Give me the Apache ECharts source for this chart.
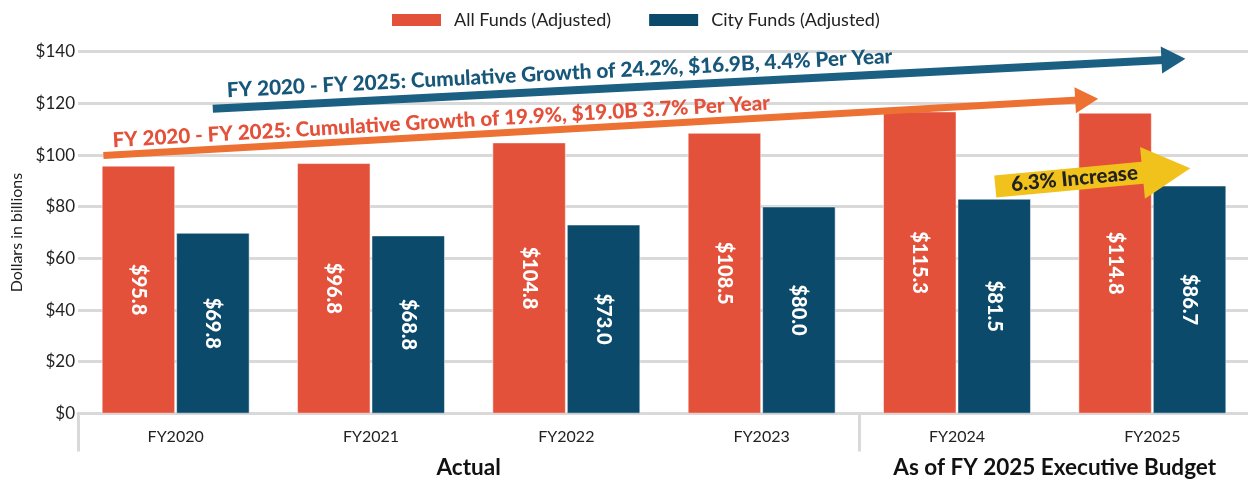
<!DOCTYPE html>
<html><head><meta charset="utf-8">
<script src="https://cdn.jsdelivr.net/npm/echarts@6/dist/echarts.min.js"></script>
<style>html,body{margin:0;padding:0;background:#fff}#chart{width:1248px;height:485px}</style>
</head><body><div id="chart"></div>
<script>
// ---- data ----
const categories = ['FY2020', 'FY2021', 'FY2022', 'FY2023', 'FY2024', 'FY2025'];
const allFunds = [95.8, 96.8, 104.8, 108.5, 116.8, 116.3];
const cityFunds = [69.8, 68.8, 73.0, 80.0, 83.0, 88.1];
const allFundsLabels = ['$95.8', '$96.8', '$104.8', '$108.5', '$115.3', '$114.8'];
const cityFundsLabels = ['$69.8', '$68.8', '$73.0', '$80.0', '$81.5', '$86.7'];
const seriesNames = ['All Funds (Adjusted)', 'City Funds (Adjusted)'];
const yTicks = [0, 20, 40, 60, 80, 100, 120, 140];
const groupNames = ['Actual', 'As of FY 2025 Executive Budget'];
const groupCenters = [2, 5];
const groupBounds = [0, 4];
// annotation arrows (x in category units 0..6, y in $B)
const cityTrendText = 'FY 2020 - FY 2025: Cumulative Growth of 24.2%, $16.9B, 4.4% Per Year';
const cityTrendFrom = [0.69, 117.9];
const cityTrendTo = [5.608, 137.0];
const allTrendText = 'FY 2020 - FY 2025: Cumulative Growth of 19.9%, $19.0B 3.7% Per Year';
const allTrendFrom = [0.13, 99.8];
const allTrendTo = [5.164, 121.5];
const increaseText = '6.3% Increase';
const increaseFrom = [4.696, 87.8];
const increaseTo = [5.572, 94.0];

// ---- style ----
const FONT = 'Lato, "Open Sans", sans-serif';
const ORANGE = '#E4513A';
const BLUE = '#0B4A6B';
const GRID = '#D9D9D9';

const chart = echarts.init(document.getElementById('chart'));
chart.setOption({
  animation: false,
  textStyle: { fontFamily: FONT },
  legend: {
    left: 390, top: 11, padding: 0,
    itemWidth: 51, itemHeight: 14, itemGap: 36,
    icon: 'rect',
    data: seriesNames,
    textStyle: { fontSize: 18, color: '#222', fontFamily: FONT, padding: [0, 0, 0, 7] }
  },
  grid: { left: 78, top: 51.7, width: 1172, bottom: 71.6, containLabel: false, outerBoundsMode: 'none' },
  xAxis: [
    {
      type: 'category', data: categories, position: 'bottom',
      axisLine: { show: true, lineStyle: { color: GRID, width: 3 } },
      axisTick: { show: false },
      axisLabel: { color: '#222', fontSize: 16, margin: 15, fontFamily: FONT }
    },
    {
      type: 'value', min: 0, max: 6, position: 'bottom',
      axisLine: { show: false },
      splitLine: { show: false },
      axisTick: { show: true, customValues: groupBounds, length: 38, inside: false,
        lineStyle: { color: GRID, width: 3 } },
      axisLabel: { show: true, customValues: groupCenters, margin: 43,
        fontSize: 22.5, fontWeight: 'bold', color: '#111', fontFamily: FONT,
        formatter: v => groupNames[groupCenters.indexOf(Math.round(v))] || '' }
    }
  ],
  yAxis: {
    type: 'value', min: yTicks[0], max: yTicks[yTicks.length - 1], interval: 20,
    name: 'Dollars in billions', nameLocation: 'middle', nameGap: 52, nameRotate: 90,
    nameTextStyle: { fontSize: 16, color: '#222', fontFamily: FONT },
    axisLine: { show: false }, axisTick: { show: false },
    axisLabel: { formatter: v => '$' + v, fontSize: 17, color: '#222', margin: 3, fontFamily: FONT },
    splitLine: { lineStyle: { color: GRID, width: 3 } }
  },
  series: [
    {
      name: seriesNames[0], type: 'bar', data: allFunds,
      barWidth: 73, barGap: '2%',
      itemStyle: { color: ORANGE, borderColor: '#fff', borderWidth: 0.5 },
      label: { show: true, position: 'inside', rotate: -90, color: '#fff', fontSize: 20,
        fontWeight: 900, fontFamily: FONT, formatter: p => allFundsLabels[p.dataIndex] }
    },
    {
      name: seriesNames[1], type: 'bar', data: cityFunds,
      barWidth: 73, barGap: '2%',
      itemStyle: { color: BLUE, borderColor: '#fff', borderWidth: 0.5 },
      label: { show: true, position: 'inside', rotate: -90, color: '#fff', fontSize: 20,
        fontWeight: 900, fontFamily: FONT, formatter: p => cityFundsLabels[p.dataIndex] }
    },
    {
      type: 'scatter', xAxisIndex: 1, yAxisIndex: 0, data: [], silent: true,
      markLine: {
        silent: true, animation: false,
        data: [
          [
            { coord: cityTrendFrom, symbol: 'none',
              lineStyle: { color: '#1B5F82', width: 8, type: 'solid' },
              label: { show: true, position: 'insideStartTop', distance: [15, 7], formatter: cityTrendText,
                color: '#17577A', fontSize: 20.7, fontWeight: 900, fontFamily: FONT } },
            { coord: cityTrendTo, symbol: 'triangle', symbolSize: [27, 24] }
          ],
          [
            { coord: allTrendFrom, symbol: 'none',
              lineStyle: { color: '#EC7133', width: 7, type: 'solid' },
              label: { show: true, position: 'insideStartTop', distance: [10, 4], formatter: allTrendText,
                color: '#E4513A', fontSize: 20.6, fontWeight: 900, fontFamily: FONT } },
            { coord: allTrendTo, symbol: 'triangle', symbolSize: [26, 23] }
          ],
          [
            { coord: increaseFrom, symbol: 'none',
              lineStyle: { color: '#F0C21B', width: 22, type: 'solid', cap: 'butt' },
              label: { show: true, position: 'insideStartTop', distance: [16, -10], formatter: increaseText,
                color: '#222', fontSize: 20.5, fontWeight: 900, fontFamily: FONT } },
            { coord: increaseTo, symbol: 'triangle', symbolSize: [52, 48] }
          ]
        ]
      }
    }
  ]
});
</script>
</body></html>
